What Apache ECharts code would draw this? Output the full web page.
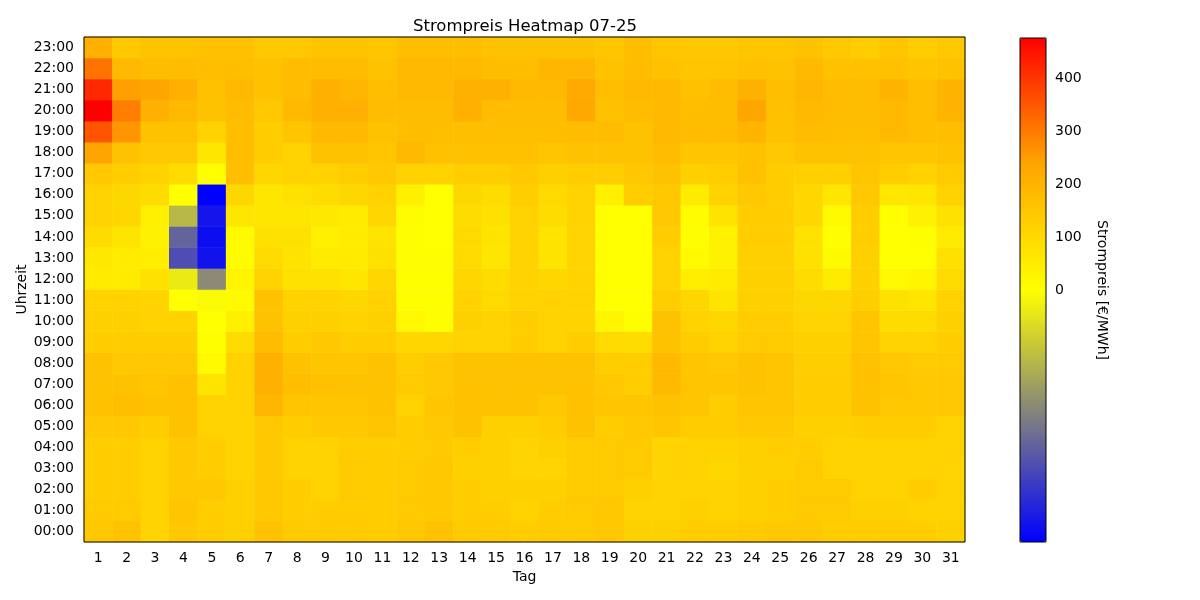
<!DOCTYPE html>
<html>
<head>
<meta charset="utf-8">
<title>Strompreis Heatmap 07-25</title>
<script src="https://cdn.jsdelivr.net/npm/echarts@6/dist/echarts.min.js"></script>
<style>
  html, body { margin: 0; padding: 0; background: #fff; }
  #chart { width: 1200px; height: 600px; }
</style>
</head>
<body>
<div id="chart"></div>
<script>
// Tage 1..31 und Stunden 00:00..23:00
const days = Array.from({ length: 31 }, (_, i) => String(i + 1));
const hours = Array.from({ length: 24 }, (_, i) => String(i).padStart(2, '0') + ':00');
const barTicks = [0, 100, 200, 300, 400];

// Preise in €/MWh, eine Zeile pro Stunde (00:00 zuerst), Spalten = Tag 1..31
const prices = [
  [145,160,114,145,132,125,160,140,140,140, 132,145,160,140,140,132,140,140,145,125,125, 132,132,140,145,145,132,132,132,132,125],
  [140,140,120,150,132,125,145,132,132,132, 132,140,145,132,132,120,132,140,145,120,120, 125,120,125,132,140,140,125,125,120,120],
  [132,132,120,145,145,125,145,132,120,140, 132,140,145,132,125,125,125,140,140,125,120, 120,120,125,132,140,140,120,120,132,120],
  [132,132,120,145,132,120,145,120,120,140, 132,140,145,125,125,114,114,140,140,140,114, 120,106,125,125,140,120,120,120,120,114],
  [132,132,120,145,132,120,145,120,120,132, 132,132,140,132,125,114,125,140,140,140,114, 120,120,125,132,132,120,120,120,120,120],
  [145,145,132,160,120,120,145,132,145,145, 150,132,145,160,125,125,132,160,132,145,150, 132,132,145,145,125,125,132,132,132,120],
  [165,172,160,165,120,120,192,150,150,150, 160,120,150,165,160,160,145,165,150,150,160, 150,132,150,150,132,132,160,145,145,145],
  [160,160,150,165,72,120,210,172,165,160, 160,140,145,165,160,160,160,165,145,132,185, 150,150,160,150,132,132,165,150,145,145],
  [160,145,145,145,13,120,205,165,150,150, 160,132,145,160,160,160,160,160,132,132,185, 150,145,160,150,132,132,165,145,140,140],
  [132,132,132,132,2,93,178,132,145,132, 132,106,106,120,120,132,120,132,98,93,160, 132,120,140,140,125,125,150,120,120,132],
  [125,125,120,120,1,40,160,125,125,120, 125,18,3,125,120,132,120,120,26,3,160, 120,106,132,132,114,114,150,93,93,125],
  [120,120,114,1,-0.2,13,160,120,120,106, 120,2,2,120,98,120,120,120,1,1,132, 106,72,125,125,106,106,132,80,66,120],
  [53,53,80,-0.8,-4.6,26,120,80,80,66, 106,3,2,106,93,120,106,120,1,1,120, 45,53,125,125,93,53,125,18,26,93],
  [60,53,45,-7,-9.3,8,98,72,53,53, 80,2,2,98,66,120,72,114,1,1,120, 13,35,125,125,80,13,125,1,1,80],
  [93,72,35,-6.1,-9.5,13,80,80,40,53, 72,2,1,98,72,120,72,114,1,1,132, 2,35,132,132,80,2,132,1,2,53],
  [120,106,40,-2.8,-9.2,66,66,66,60,53, 106,8,1,93,80,120,93,120,1,1,145, 8,72,132,132,106,13,132,2,35,80],
  [120,106,93,1,-10,106,66,80,93,106, 120,40,1,106,93,132,98,120,40,132,145, 53,120,145,132,106,66,145,60,66,120],
  [145,132,120,93,1,172,106,120,120,132, 145,120,120,132,132,145,125,132,132,145,160, 125,132,160,132,125,125,150,132,120,140],
  [238,160,145,145,66,172,132,120,160,160, 150,185,165,165,165,165,150,160,160,160,178, 150,150,165,145,160,160,160,150,150,160],
  [353,260,160,160,120,172,132,150,185,185, 160,172,172,172,172,172,172,178,178,160,185, 178,178,198,165,178,172,172,185,172,172],
  [476,296,210,185,160,178,145,185,210,210, 178,178,178,210,178,178,178,230,165,178,185, 172,172,238,165,185,178,178,185,172,198],
  [418,245,238,210,165,185,165,178,210,192, 172,185,185,205,205,185,185,225,172,185,185, 165,178,205,172,192,178,178,198,172,198],
  [310,185,172,178,172,172,165,178,178,178, 160,185,185,185,172,172,192,192,160,178,165, 150,150,165,160,185,165,165,165,150,160],
  [210,145,155,155,165,165,145,145,155,155, 150,172,172,172,160,160,160,160,150,172,150, 145,145,150,150,160,145,132,150,132,145]
];

const allValues = prices.flat();
const vmin = Math.min(...allValues);
const vmax = Math.max(...allValues);

// zweiseitige Normierung: vmin..0 -> 0..0.5, 0..vmax -> 0.5..1
const norm = v => v < 0 ? 0.5 * (v - vmin) / (0 - vmin) : 0.5 + 0.5 * v / vmax;

const cells = [];
prices.forEach((row, h) => {
  row.forEach((v, d) => {
    cells.push([d, h, norm(v), v]);
  });
});

const font = 'DejaVu Sans';
const chart = echarts.init(document.getElementById('chart'));
chart.setOption({
  animation: false,
  backgroundColor: '#fff',
  textStyle: { fontFamily: font, color: '#000' },
  title: {
    text: 'Strompreis Heatmap 07-25',
    left: 520,
    top: 13,
    textAlign: 'center',
    textStyle: { fontFamily: font, fontSize: 16.5, fontWeight: 'normal', color: '#000' }
  },
  grid: [
    { left: 84, top: 37, width: 881, height: 505, show: true, borderColor: '#000', borderWidth: 1, backgroundColor: 'transparent', z: 5 },
    { left: 1020, top: 38, width: 26, height: 504, show: true, borderColor: '#000', borderWidth: 1, backgroundColor: 'transparent', z: 10 }
  ],
  xAxis: [
    {
      type: 'category',
      gridIndex: 0,
      data: days,
      name: 'Tag',
      nameLocation: 'middle',
      nameGap: 28,
      nameTextStyle: { fontFamily: font, fontSize: 14, color: '#000' },
      axisLine: { show: false },
      axisTick: { alignWithLabel: true, length: 5, lineStyle: { color: '#000' } },
      axisLabel: { fontFamily: font, fontSize: 14, color: '#000', margin: 9 },
      splitLine: { show: false }
    },
    { type: 'value', gridIndex: 1, show: false, min: 0, max: 1 }
  ],
  yAxis: [
    {
      type: 'category',
      gridIndex: 0,
      data: hours,
      name: 'Uhrzeit',
      nameLocation: 'middle',
      nameGap: 55,
      nameMoveOverlap: false,
      nameTextStyle: { fontFamily: font, fontSize: 14, color: '#000' },
      axisLine: { show: false },
      axisTick: { alignWithLabel: true, length: 5, lineStyle: { color: '#000' } },
      axisLabel: { fontFamily: font, fontSize: 14, color: '#000', margin: 10, interval: 0 },
      splitLine: { show: false }
    },
    {
      type: 'value',
      gridIndex: 1,
      position: 'right',
      min: -vmax,
      max: vmax,
      name: 'Strompreis [€/MWh]',
      nameLocation: 'middle',
      nameRotate: -90,
      nameGap: 49,
      nameTextStyle: { fontFamily: font, fontSize: 14, color: '#000' },
      axisLine: { show: false },
      axisTick: { show: true, customValues: barTicks, length: 5, lineStyle: { color: '#000' } },
      axisLabel: { customValues: barTicks, fontFamily: font, fontSize: 14, color: '#000', margin: 9 },
      splitLine: { show: false }
    }
  ],
  visualMap: {
    type: 'continuous',
    seriesIndex: 0,
    dimension: 2,
    min: 0,
    max: 1,
    calculable: false,
    hoverLink: false,
    orient: 'vertical',
    left: 1020,
    top: 38,
    itemWidth: 26,
    itemHeight: 504,
    padding: 0,
    inRange: { color: ['#0000ff', '#808080', '#ffff00', '#ffa500', '#ff0000'] }
  },
  series: [
    {
      type: 'heatmap',
      xAxisIndex: 0,
      yAxisIndex: 0,
      data: cells,
      encode: { x: 0, y: 1 },
      itemStyle: { borderWidth: 0 },
      emphasis: { disabled: true }
    }
  ]
});
</script>
</body>
</html>
